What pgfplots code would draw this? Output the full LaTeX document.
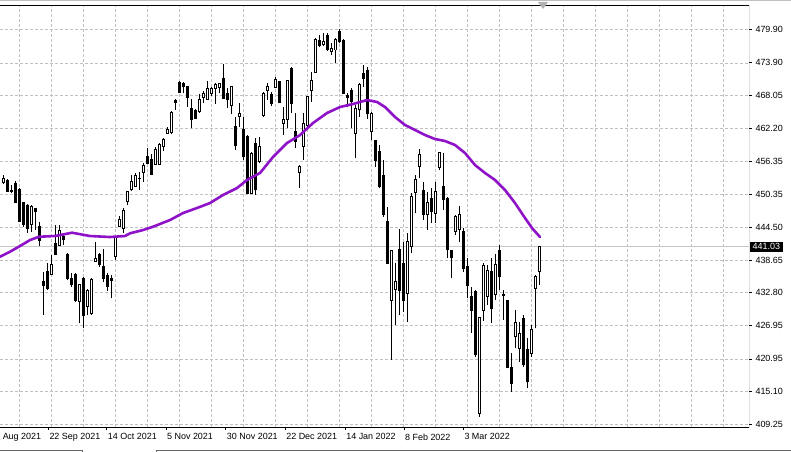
\documentclass[border=0pt]{standalone}
\usepackage{fontspec}
\setmainfont{Liberation Sans}
\usepackage{pgfplots}
\usepackage{pgfplotstable}
\pgfplotsset{compat=1.18}
\definecolor{maline}{RGB}{142,18,200}
\definecolor{gridgray}{RGB}{192,192,192}
\definecolor{pricegray}{RGB}{200,200,200}

% daily bars, bar index i (4 px apart), open high low close
\pgfplotstableread{
i O H L C
0 452.46 453.84 452.23 453.25
7 444.90 448.47 443.70 448.17
12 436.13 439.53 435.95 437.92
14 441.32 444.90 441.32 444.00
19 431.18 434.29 427.31 434.29
21 430.28 433.40 428.80 433.27
22 429.10 435.36 428.80 435.18
23 438.46 441.91 438.33 438.94
28 439.23 442.80 438.64 442.80
29 444.72 446.51 444.49 445.92
30 444.31 447.88 443.41 447.58
31 449.06 451.03 448.47 450.85
32 451.16 453.84 451.03 452.64
33 451.75 454.14 451.64 453.84
35 454.25 456.04 452.64 455.63
38 455.81 458.79 455.63 458.44
39 455.81 459.62 455.63 459.38
40 458.90 460.46 458.19 460.22
41 461.30 462.48 461.17 462.07
42 461.41 465.34 461.17 464.98
49 465.16 468.33 464.98 467.38
50 467.74 468.92 466.66 468.45
51 467.38 470.71 467.25 469.35
52 468.45 469.53 467.97 469.35
53 469.35 470.24 466.54 469.94
54 469.53 470.35 468.56 470.12
57 466.36 469.76 464.75 469.63
59 464.27 466.66 462.48 464.88
62 450.57 458.01 450.44 457.72
64 456.22 460.69 455.93 458.90
65 464.57 468.74 464.27 468.45
66 468.92 470.24 467.25 469.76
68 469.53 471.42 469.35 470.96
70 463.09 465.95 460.99 463.68
71 463.68 470.83 462.19 470.83
74 454.25 455.63 451.46 455.32
75 458.90 464.88 456.52 463.09
76 462.78 467.84 461.89 467.84
77 468.92 472.32 466.95 470.83
78 472.14 478.29 472.03 477.99
80 477.27 479.18 476.91 477.68
82 475.89 477.40 475.30 476.50
83 476.20 478.29 473.93 477.99
88 461.30 466.36 456.83 465.77
89 465.47 470.24 464.27 469.94
92 461.58 465.16 460.10 464.88
97 431.48 440.42 420.75 440.30
98 433.40 438.05 427.01 434.75
101 432.68 443.41 427.60 441.91
102 441.02 450.57 439.83 450.08
103 450.67 453.84 446.99 453.07
104 455.32 458.44 453.25 457.42
106 446.69 450.85 444.00 448.88
108 446.99 452.64 445.20 450.85
109 455.22 458.01 454.73 457.83
113 443.70 446.69 443.11 446.38
114 444.13 448.29 441.91 446.86
119 411.22 428.50 410.61 428.39
120 429.57 438.05 427.78 437.74
121 432.07 437.74 430.59 436.85
123 432.38 439.71 431.48 437.92
128 425.04 429.69 422.84 427.42
129 422.84 427.60 420.45 425.53
132 421.95 427.01 421.34 426.24
133 433.57 435.95 426.42 435.65
134 436.54 441.14 434.16 441.03
}\upbars

\pgfplotstableread{
i O H L C
1 452.82 453.07 450.85 450.85
2 451.03 452.05 450.57 450.92
3 452.35 452.82 448.78 448.88
4 451.28 451.46 445.38 445.49
5 448.88 449.06 444.59 444.90
6 448.47 448.65 443.52 444.31
8 447.88 447.99 444.00 447.28
9 444.72 445.49 441.14 442.21
10 434.75 436.54 428.80 433.99
11 436.54 438.05 433.27 433.57
13 441.68 444.84 439.66 439.71
15 442.93 443.52 441.32 442.34
16 439.71 439.83 435.06 435.36
17 435.36 436.26 433.86 434.34
18 436.13 436.26 431.18 431.48
20 435.36 435.65 426.42 428.80
24 439.66 439.83 437.44 437.92
25 437.44 440.55 434.75 435.36
26 435.95 436.26 433.14 433.86
27 435.36 435.95 431.79 435.06
34 453.25 454.43 451.16 453.16
36 457.24 458.61 455.81 455.93
37 456.65 457.60 453.84 454.02
43 467.13 467.38 465.47 466.84
44 470.35 470.71 468.45 468.56
45 470.12 470.53 468.45 469.76
46 469.63 469.76 466.06 467.74
47 465.77 467.38 462.19 463.80
48 465.34 465.59 463.80 463.98
55 471.14 473.69 467.38 467.56
56 468.45 469.35 465.77 467.38
58 462.48 464.27 458.30 459.03
60 462.01 464.27 456.52 457.11
61 460.69 460.99 450.57 450.57
63 459.51 460.40 450.26 451.16
67 468.33 468.74 466.18 466.66
69 470.53 470.71 466.66 466.77
72 472.92 473.21 464.88 466.66
73 461.58 464.98 458.61 459.80
79 477.86 478.88 476.68 477.09
81 478.88 479.18 476.07 476.32
84 479.47 479.98 477.40 477.68
85 477.86 478.11 468.45 468.45
86 468.15 468.45 466.06 467.74
87 469.04 469.35 462.19 466.95
90 472.03 473.51 469.63 471.14
91 472.62 473.21 463.90 464.80
93 460.10 460.10 455.32 456.52
94 458.01 459.21 451.46 451.75
95 453.84 456.52 446.38 446.69
96 445.49 448.17 438.05 438.05
99 440.55 444.13 428.80 433.27
100 438.05 441.91 429.39 431.48
105 451.03 452.64 445.79 446.69
107 449.67 451.46 445.20 447.28
110 451.75 457.83 447.58 449.49
111 449.67 449.96 438.94 440.55
112 440.30 440.42 435.36 439.12
115 443.70 444.31 436.54 437.15
116 437.56 438.94 431.79 434.16
117 432.20 433.86 425.63 429.57
118 432.97 433.27 421.34 421.82
122 436.54 438.94 427.31 430.00
124 440.42 441.32 433.27 435.65
125 432.38 433.27 427.90 432.25
126 431.48 431.48 419.27 419.45
127 419.45 421.95 415.08 416.58
130 428.21 428.80 419.55 419.86
131 422.66 424.63 415.69 416.87
}\downbars

\pgfplotsset{
  candle/.style={draw=none, mark=none, forget plot,
    error bars/y dir=plus, error bars/y explicit, error bars/error mark=none},
}

\begin{document}
\begin{tikzpicture}
\begin{axis}[
  scale only axis, width=749bp, height=421bp,
  xmin=-0.875, xmax=186.375, ymin=408.77, ymax=484.07,
  axis line style={draw=none},
  xtick={11.2,25.8,40.6,55.55,70.4,85.4,100.1,114.95},
  xticklabels={22 Sep 2021,14 Oct 2021,5 Nov 2021,30 Nov 2021,22 Dec 2021,14 Jan 2022,8 Feb 2022,3 Mar 2022},
  minor xtick={4,12,...,180},
  ytick={409.25,415.10,420.95,426.95,432.80,438.65,444.50,450.35,456.35,462.20,468.05,473.90,479.90},
  yticklabels={409.25,415.10,420.95,426.95,432.80,438.65,444.50,450.35,456.35,462.20,468.05,473.90,479.90},
  xtick pos=left, ytick pos=right, xticklabel pos=left, yticklabel pos=right,
  tick align=outside, major tick length=3bp, minor tick length=0pt,
  tick style={black, line width=0.8bp},
  xmajorgrids=false, xminorgrids=true, ymajorgrids=true,
  major grid style={gridgray, dash pattern=on 3bp off 2bp, line width=0.7bp},
  minor grid style={gridgray, dash pattern=on 3bp off 2bp, line width=0.7bp},
  ticklabel style={font=\fontsize{9}{10}\selectfont},
  xticklabel style={anchor=north west, inner xsep=1bp},
  yticklabel style={anchor=west},
  /pgf/number format/assume math mode=true,
]
% last price line
\addplot[pricegray, line width=0.8bp, forget plot] coordinates {(-0.875,441.03) (186.375,441.03)};

% wicks
\addplot[candle, error bars/error bar style={draw=black, line width=1bp}]
  table[x=i, y=L, y error plus expr=\thisrow{H}-\thisrow{L}] {\upbars};
\addplot[candle, error bars/error bar style={draw=black, line width=1bp}]
  table[x=i, y=L, y error plus expr=\thisrow{H}-\thisrow{L}] {\downbars};

% bodies: black outline, white inside for rising days
\addplot[candle, error bars/error bar style={draw=black, line width=3bp, shorten <=-0.5bp, shorten >=-0.5bp}]
  table[x=i, y=O, y error plus expr=\thisrow{C}-\thisrow{O}] {\downbars};
\addplot[candle, error bars/error bar style={draw=black, line width=3bp, shorten <=-0.5bp, shorten >=-0.5bp}]
  table[x=i, y=O, y error plus expr=\thisrow{C}-\thisrow{O}] {\upbars};
\addplot[candle, error bars/error bar style={draw=white, line width=1bp, shorten <=0.5bp, shorten >=0.5bp}]
  table[x=i, y=O, y error plus expr=\thisrow{C}-\thisrow{O}] {\upbars};

% moving average
\addplot[maline, line width=2.6bp, line join=round, line cap=round] coordinates {
(-0.875,439.23) (1.63,440.12) (4.13,441.14) (6.63,442.21) (8.88,442.80) (12.88,442.93)
(17.13,443.52) (21.63,442.93) (26.63,442.75) (30.38,442.93) (31.63,443.41) (34.88,444.00)
(37.38,444.59) (41.63,445.79) (44.88,447.04) (48.38,447.94) (51.63,448.83) (54.88,450.26)
(58.38,451.51) (60.88,452.95) (64.13,454.20) (67.38,457.06) (70.88,459.56) (74.13,460.99)
(77.38,463.14) (80.88,464.93) (84.13,466.00) (87.38,466.54) (90.88,467.25) (93.38,466.90)
(95.38,466.00) (97.88,464.21) (100.38,462.78) (102.88,461.89) (105.38,460.99) (107.88,460.28)
(110.38,459.92) (112.88,459.21) (115.38,457.77) (117.88,455.63) (120.38,454.20) (122.88,452.95)
(125.38,451.16) (127.88,448.83) (130.38,446.15) (132.13,444.36) (134.13,442.75)};

% frame: top, right, bottom
\draw[black, line width=1bp] (rel axis cs:0,1) -- (rel axis cs:1,1) -- (rel axis cs:1,0) -- (rel axis cs:0,0);
\coordinate (SW) at (rel axis cs:0,0);
\coordinate (NE) at (rel axis cs:1,1);
\coordinate (AugTick) at (axis cs:-3.6,408.77);
\coordinate (LastP) at (axis cs:186.375,441.03);
\end{axis}
% date label cut by the left edge
\node[anchor=north west, inner xsep=1bp, yshift=-3bp, font=\fontsize{9}{10}\selectfont] at (AugTick) {31 Aug 2021};
% last price marker
\node[anchor=west, fill=black, text=white, inner xsep=2.5bp, inner ysep=1.8bp, xshift=1bp,
  font=\fontsize{9}{10}\selectfont] at (LastP) {441.03};
% chart shift marker
\fill[gray!60] ([xshift=-211bp, yshift=4bp]NE) -- ([xshift=-201bp, yshift=4bp]NE) -- ([xshift=-206bp, yshift=-3bp]NE) -- cycle;
% window borders
\draw[gray!50, line width=1bp] ([yshift=5.5bp]NE) -- ++(42bp,0) ([yshift=5.5bp]NE) -- ++(-749bp,0);
\draw[gray!80!black, line width=0.8bp] ([yshift=-23bp]SW) -- ++(82bp,0) -- ++(0,-2bp)
  ([xshift=156bp, yshift=-25bp]SW) -- ++(0,2bp) -- ++(635bp,0);
\pgfresetboundingbox
\path[use as bounding box] ([yshift=-25bp]SW) rectangle ([xshift=42bp, yshift=6bp]NE);
\end{tikzpicture}
\end{document}
